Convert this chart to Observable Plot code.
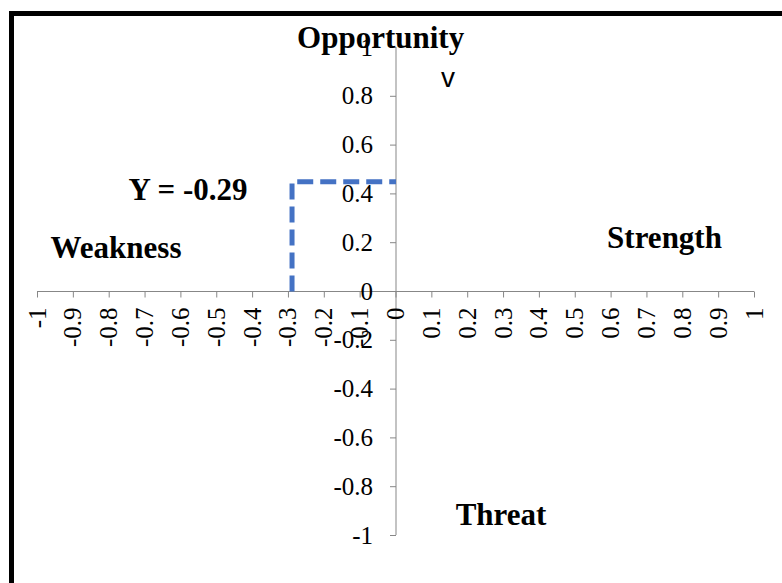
<!DOCTYPE html>
<html><head><meta charset="utf-8">
<script src="https://cdn.jsdelivr.net/npm/d3@7"></script>
<script src="https://cdn.jsdelivr.net/npm/@observablehq/plot@0.6"></script>
<style>
body{margin:0;background:#fff;}
#wrap{position:relative;width:782px;height:583px;overflow:hidden;background:#fff;}
#wrap svg{position:absolute;left:0;top:0;}
#frame{position:absolute;left:9px;top:11px;width:820px;height:620px;border:5px solid #000;box-sizing:border-box;pointer-events:none;}
</style></head><body><div id="wrap"><div id="frame"></div></div>
<script>
const xTicks = [-1, -0.9, -0.8, -0.7, -0.6, -0.5, -0.4, -0.3, -0.2, -0.1, 0, 0.1, 0.2, 0.3, 0.4, 0.5, 0.6, 0.7, 0.8, 0.9, 1];
const yTicks = [-1, -0.8, -0.6, -0.4, -0.2, 0, 0.2, 0.4, 0.6, 0.8, 1];
const guideX = [-0.29, -0.29, 0];
const guideY = [0, 0.45, 0.45];
const quadrantNames = ["Opportunity", "Weakness", "Strength", "Threat", "Y = -0.29"];
const quadrantX = [-0.043, -0.781, 0.749, 0.293, -0.58];
const quadrantY = [0.996, 0.139, 0.18, -0.959, 0.373];
const axisTitle = ["v"];
const axisTitleX = [0.145];
const axisTitleY = [0.84];

const guide = guideX.map((x, i) => ({x, y: guideY[i]}));
const quads = quadrantNames.map((t, i) => ({t, x: quadrantX[i], y: quadrantY[i]}));
const titles = axisTitle.map((t, i) => ({t, x: axisTitleX[i], y: axisTitleY[i]}));

const serif = "'Liberation Serif', 'Times New Roman', serif";
const axisColor = "#878787";
const downTick = {draw(ctx) { ctx.moveTo(0, 0); ctx.lineTo(0, 6); }};
const leftTick = {draw(ctx) { ctx.moveTo(0, 0); ctx.lineTo(-6, 0); }};

const chart = Plot.plot({
  width: 782,
  height: 583,
  marginLeft: 37,
  marginRight: 28,
  marginTop: 47,
  marginBottom: 48,
  x: {domain: [-1, 1], axis: null},
  y: {domain: [-1, 1], axis: null},
  style: {fontFamily: serif, background: "transparent"},
  marks: [
    Plot.ruleY([0], {x1: -1, x2: 1, stroke: axisColor, strokeWidth: 1}),
    Plot.ruleX([0], {y1: -1, y2: 1, stroke: axisColor, strokeWidth: 1}),
    Plot.dot(xTicks, {x: d => d, y: 0, symbol: downTick, stroke: axisColor, strokeWidth: 1, fill: "none"}),
    Plot.dot(yTicks, {x: 0, y: d => d, symbol: leftTick, stroke: axisColor, strokeWidth: 1, fill: "none"}),
    Plot.line(guide, {x: "x", y: "y", stroke: "#4472C4", strokeWidth: 5, strokeDasharray: "16,7", strokeLinecap: "butt", strokeLinejoin: "miter"}),
    Plot.text(xTicks, {x: d => d, y: 0, text: d => String(d), rotate: -90, textAnchor: "end", dy: 16, fontSize: 25, fill: "#000", fontFamily: serif}),
    Plot.text(yTicks, {x: 0, y: d => d, text: d => String(d), textAnchor: "end", dx: -23, fontSize: 25, fill: "#000", fontFamily: serif}),
    Plot.text(titles, {x: "x", y: "y", text: "t", lineAnchor: "bottom", fontSize: 28, fill: "#000", fontFamily: "'Liberation Sans', Arial, sans-serif"}),
    Plot.text(quads, {x: "x", y: "y", text: "t", lineAnchor: "bottom", fontSize: 31, fontWeight: "bold", fill: "#000", fontFamily: serif})
  ]
});
document.getElementById("wrap").insertBefore(chart, document.getElementById("frame"));
</script>
</body></html>
